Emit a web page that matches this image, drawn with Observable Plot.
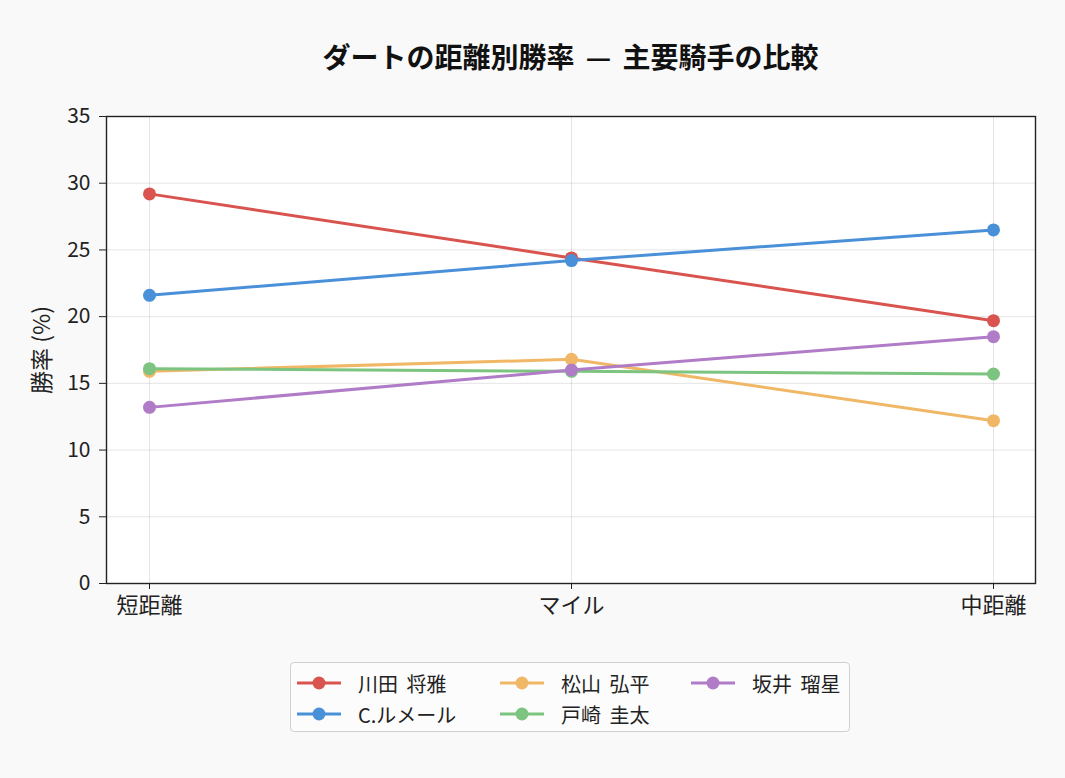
<!DOCTYPE html>
<html>
<head>
<meta charset="utf-8">
<script src="https://cdn.jsdelivr.net/npm/d3@7"></script>
<script src="https://cdn.jsdelivr.net/npm/@observablehq/plot@0.6"></script>
<style>
  html, body { margin: 0; padding: 0; background: #f9f9f9; }
  body { width: 1065px; height: 778px; font-family: "Noto Sans CJK JP", "Noto Sans", sans-serif; position: relative; }
  #title { position: absolute; left: 106px; width: 929px; top: 42px; text-align: center; font-size: 28px; font-weight: bold; color: #111; line-height: 1; word-spacing: 5px; }
  #chart { position: absolute; left: 0; top: 90px; }
  #legend { position: absolute; left: 290px; top: 662px; width: 560px; height: 70px; border: 1.5px solid #d0d0d0; border-radius: 4px; background: #fcfcfc; box-sizing: border-box; }
  .item { position: absolute; display: flex; align-items: center; font-size: 20px; color: #222; height: 24px; word-spacing: 4px; }
  .item svg { margin-right: 17px; }
</style>
</head>
<body>
<div id="title">ダートの距離別勝率 — 主要騎手の比較</div>
<div id="chart"></div>
<div id="legend"></div>
<script>
// Distance categories and jockeys
const distances = ["短距離", "マイル", "中距離"];
const jockeys = ["川田 将雅", "C.ルメール", "松山 弘平", "戸崎 圭太", "坂井 瑠星"];
const colors = ["#d9534f", "#4a90d9", "#f0b866", "#7cc47f", "#b07cc7"];

// Win rate (%) per distance, one array per jockey
const kawada = [29.2, 24.4, 19.7];
const lemaire = [21.6, 24.2, 26.5];
const matsuyama = [15.9, 16.8, 12.2];
const tosaki = [16.1, 15.9, 15.7];
const sakai = [13.2, 16.0, 18.5];

const yTicks = [0, 5, 10, 15, 20, 25, 30, 35];

const seriesValues = [kawada, lemaire, matsuyama, tosaki, sakai];
const rows = [];
jockeys.forEach((j, i) => {
  distances.forEach((d, k) => rows.push({jockey: j, distance: d, rate: seriesValues[i][k]}));
});

const plot = Plot.plot({
  width: 1065,
  height: 533,
  marginTop: 26,
  marginLeft: 106,
  marginRight: 30,
  marginBottom: 40,
  style: {fontFamily: "'Noto Sans CJK JP', 'Noto Sans', sans-serif", fontSize: "21px", background: "transparent", color: "#222"},
  x: {type: "point", domain: distances, padding: 0.1, label: null},
  y: {domain: [0, 35], label: null},
  color: {domain: jockeys, range: colors},
  marks: [
    Plot.frame({fill: "white", stroke: null}),
    Plot.gridY(yTicks, {stroke: "#000", strokeOpacity: 0.1, strokeWidth: 1}),
    Plot.gridX(distances, {stroke: "#000", strokeOpacity: 0.1, strokeWidth: 1}),
    Plot.axisY(yTicks, {tickSize: 7, tickPadding: 9, fontSize: 21, label: "勝率 (%)", labelAnchor: "center", labelArrow: "none", labelOffset: 73}),
    Plot.axisX({tickSize: 6, tickPadding: 8, fontSize: 22}),
    Plot.line(rows, {x: "distance", y: "rate", z: "jockey", stroke: "jockey", strokeWidth: 3}),
    Plot.dot(rows, {x: "distance", y: "rate", fill: "jockey", r: 6.5}),
    Plot.frame({stroke: "#222", strokeWidth: 1.4})
  ]
});
document.getElementById("chart").appendChild(plot);
// Larger font for the y-axis title
plot.querySelectorAll("[aria-label='y-axis label'] text").forEach(t => t.style.fontSize = "23px");

// Legend, filled column by column (3 columns)
const legend = document.getElementById("legend");
const colX = [6, 209, 400];
const rowY = [8, 39];
jockeys.forEach((j, i) => {
  const col = Math.floor(i / 2), row = i % 2;
  const item = document.createElement("div");
  item.className = "item";
  item.style.left = colX[col] + "px";
  item.style.top = rowY[row] + "px";
  item.innerHTML = `<svg width="44" height="20"><line x1="0" x2="44" y1="10" y2="10" stroke="${colors[i]}" stroke-width="3"/><circle cx="22" cy="10" r="6.5" fill="${colors[i]}"/></svg><span>${j}</span>`;
  legend.appendChild(item);
});
</script>
</body>
</html>
